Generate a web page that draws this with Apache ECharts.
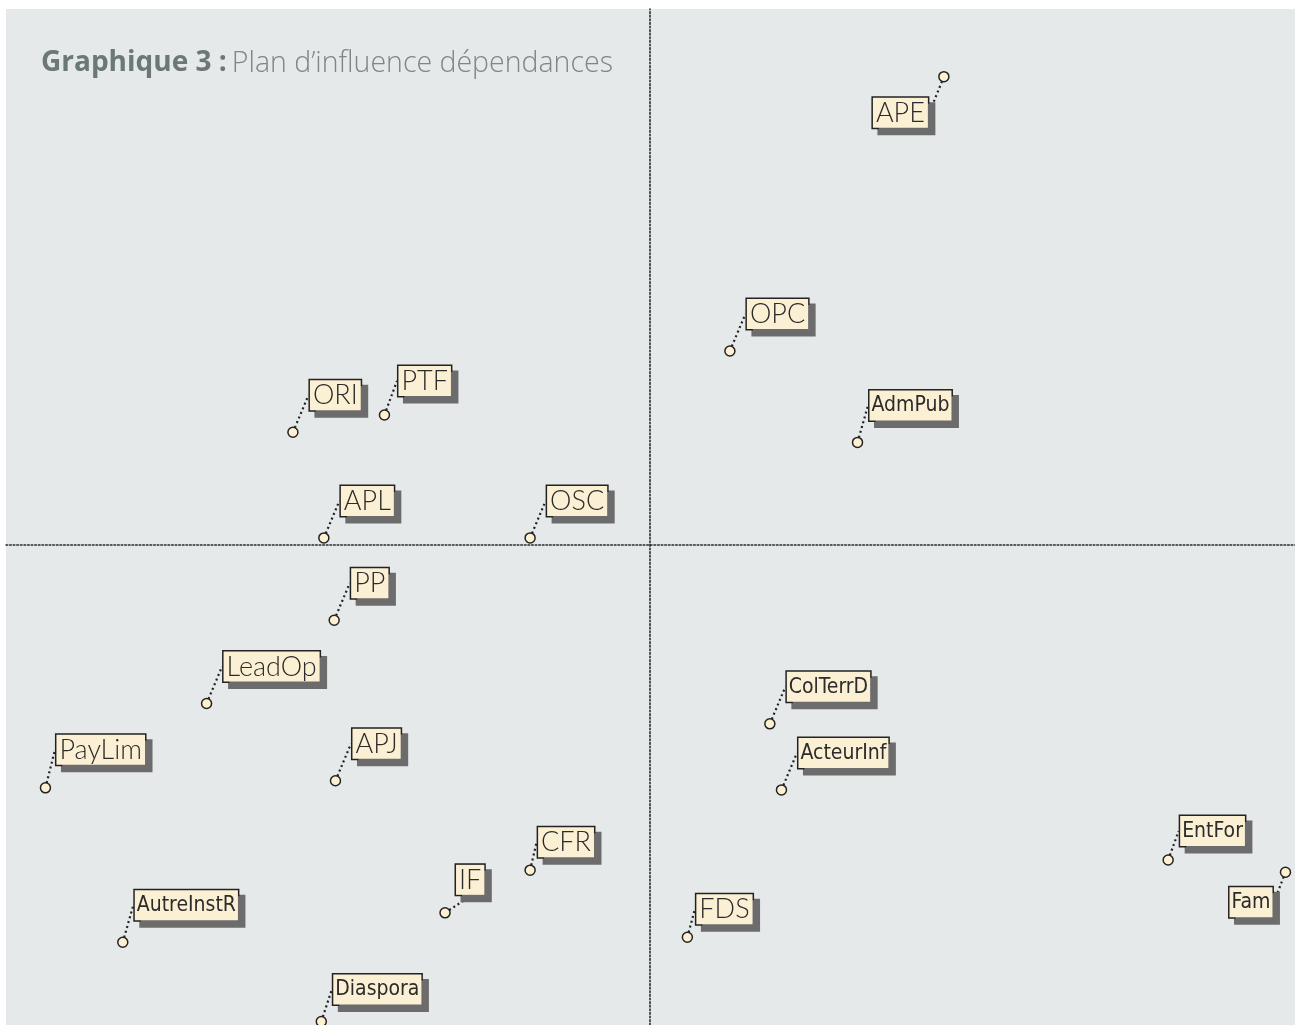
<!DOCTYPE html>
<html>
<head>
<meta charset="utf-8">
<script src="https://cdn.jsdelivr.net/npm/echarts@6/dist/echarts.min.js"></script>
<style>
  html, body { margin: 0; padding: 0; background: #fff; }
  #chart { width: 1295px; height: 1025px; }
</style>
</head>
<body>
<div id="chart"></div>
<script>
// variables du plan d'influence / dépendance
const names = ['APE', 'OPC', 'AdmPub', 'ORI', 'PTF', 'APL', 'OSC', 'PP', 'LeadOp', 'PayLim',
  'APJ', 'CFR', 'IF', 'AutreInstR', 'Diaspora', 'ColTerrD', 'ActeurInf', 'FDS', 'EntFor', 'Fam']
const dependance = [22.8, 6.2, 16.1, -27.7, -20.6, -25.3, -9.3, -24.5, -34.4, -46.9,
  -24.4, -9.3, -15.9, -40.9, -25.5, 9.3, 10.2, 2.9, 40.2, 49.3]
const influence = [46.1, 19.1, 10.1, 11.1, 12.8, 0.7, 0.7, -7.4, -15.6, -23.9,
  -23.2, -32.0, -36.2, -39.1, -46.9, -17.6, -24.1, -38.6, -31.0, -32.2]

// labels drawn in a condensed face
const narrow = ['AdmPub', 'ColTerrD', 'ActeurInf', 'AutreInstR', 'Diaspora', 'EntFor', 'Fam']
// label shift from the point (px); default up-right
const shift = {
  APE: [-16, 21, 'right', 'top'],
  Fam: [-13, 15, 'right', 'top'],
  CFR: [8, -13], FDS: [9, -13], EntFor: [12, -14], IF: [11, -18],
  Diaspora: [12, -17], PTF: [14, -19], AdmPub: [12, -22], PayLim: [11, -23], AutreInstR: [12, -22]
}

const chart = echarts.init(document.getElementById('chart'))

const data = names.map((n, i) => {
  const isNarrow = narrow.includes(n)
  return {
    name: n,
    value: [dependance[i], influence[i]],
    label: isNarrow
      ? { fontFamily: "'DejaVu Sans Condensed', sans-serif", fontSize: 21, lineHeight: 29, padding: [1, 2, 0, 2] }
      : { fontFamily: 'Lato, sans-serif', fontSize: 27, fontWeight: 300 }
  }
})

chart.setOption({
  animation: false,
  title: {
    text: '{b|Graphique 3 :} {l|Plan d\u2019influence dépendances}',
    left: 36,
    top: 44,
    textStyle: {
      rich: {
        b: { fontFamily: "'Open Sans', sans-serif", fontWeight: 'bold', fontSize: 28, color: '#6b7876' },
        l: { fontFamily: "'Open Sans', sans-serif", fontWeight: 300, fontSize: 28.5, color: '#7d8786' }
      }
    }
  },
  grid: {
    left: 6, right: 0, top: 9, bottom: 0,
    show: true, backgroundColor: '#e6e9ea', borderWidth: 0
  },
  xAxis: {
    type: 'value', min: -49.96, max: 50.04,
    axisLine: { onZero: true, lineStyle: { color: '#2a2a2a', width: 1.6, type: [1.6, 2] } },
    axisTick: { show: false }, axisLabel: { show: false }, splitLine: { show: false }
  },
  yAxis: {
    type: 'value', min: -47.24, max: 52.76,
    axisLine: { onZero: true, lineStyle: { color: '#2a2a2a', width: 1.6, type: [1.6, 2] } },
    axisTick: { show: false }, axisLabel: { show: false }, splitLine: { show: false }
  },
  series: [{
    type: 'scatter',
    symbol: 'circle',
    symbolSize: 10,
    itemStyle: { color: '#fdf1d2', borderColor: '#222', borderWidth: 1.5, opacity: 1 },
    data: data,
    label: {
      show: true,
      formatter: '{b}',
      color: '#2b2b2b',
      backgroundColor: '#fcf0d4',
      borderColor: '#222',
      borderWidth: 1.5,
      padding: [2, 3, 1, 3],
      shadowColor: '#6c6c6c',
      shadowOffsetX: 6,
      shadowOffsetY: 6,
      shadowBlur: 0
    },
    labelLine: {
      show: true,
      lineStyle: { color: '#222', width: 2.2, type: [2, 3] }
    },
    labelLayout: function (p) {
      const n = names[p.dataIndex]
      const s = shift[n] || [17, -22]
      const cx = p.rect.x + p.rect.width / 2
      const cy = p.rect.y + p.rect.height / 2
      return {
        x: cx + s[0],
        y: cy + s[1],
        align: s[2] || 'left',
        verticalAlign: s[3] || 'bottom'
      }
    }
  }]
})
</script>
</body>
</html>
